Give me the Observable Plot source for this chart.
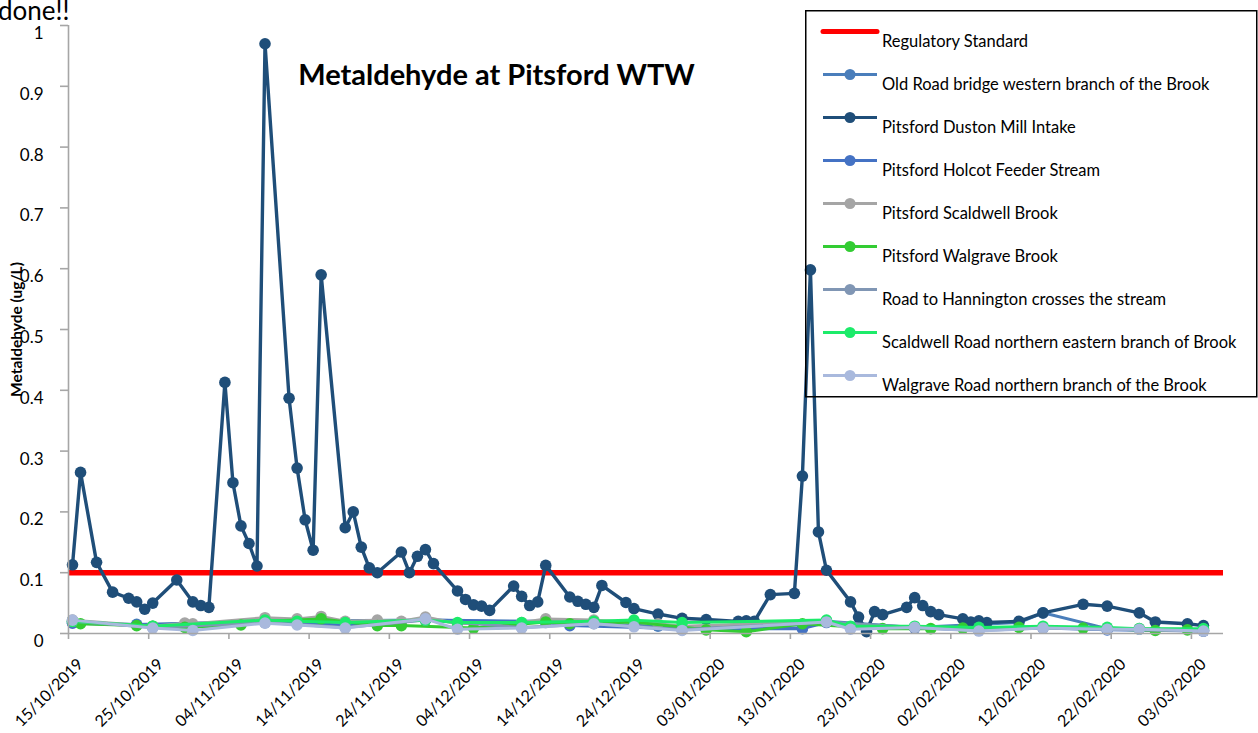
<!DOCTYPE html>
<html>
<head>
<meta charset="utf-8">
<script src="https://cdn.jsdelivr.net/npm/d3@7"></script>
<script src="https://cdn.jsdelivr.net/npm/@observablehq/plot@0.6"></script>
<style>
  html, body { margin: 0; padding: 0; background: #fff; }
  #wrap { position: relative; width: 1258px; height: 733px; overflow: hidden; font-family: Lato, "Open Sans", sans-serif; }
  #done { position: absolute; left: -2px; top: -5px; font-size: 26px; line-height: 30px; color: #000; }
  #legend { position: absolute; left: 805px; top: 10px; }
</style>
</head>
<body>
<div id="wrap">
  <div id="chart"></div>
  <div id="done">done!!</div>
  <svg id="legend" width="453" height="390"></svg>
</div>
<script>
// ---- chart text ----
const titleText = "Metaldehyde at Pitsford WTW";
const yLabel = "Metaldehyde (ug/L)";
const yTicks = [0, 0.1, 0.2, 0.3, 0.4, 0.5, 0.6, 0.7, 0.8, 0.9, 1];
const xTicks = ["2019-10-15","2019-10-25","2019-11-04","2019-11-14","2019-11-24","2019-12-04","2019-12-14","2019-12-24","2020-01-03","2020-01-13","2020-01-23","2020-02-02","2020-02-12","2020-02-22","2020-03-03"];
const xDomain = ["2019-10-15", "2020-03-07"];

// ---- series names ----
const seriesNames = [
  "Regulatory Standard",
  "Old Road bridge western branch of the Brook",
  "Pitsford Duston Mill Intake",
  "Pitsford Holcot Feeder Stream",
  "Pitsford Scaldwell Brook",
  "Pitsford Walgrave Brook",
  "Road to Hannington crosses the stream",
  "Scaldwell Road northern eastern branch of Brook",
  "Walgrave Road northern branch of the Brook"
];
const seriesColors = ["#FF0000","#4A7EBB","#1F4E79","#4472C4","#A5A5A5","#33CC33","#8096B4","#1CEB6A","#A9B9DD"];

// ---- Regulatory Standard ----
const regulatoryValue = [0.1];

// ---- Old Road bridge western branch of the Brook ----
const oldRoadDates = ["2019-10-15","2019-10-23","2019-11-08","2019-11-28","2019-12-13","2019-12-27","2020-01-14","2020-01-17","2020-01-28","2020-02-10","2020-02-13","2020-02-21","2020-02-25","2020-03-04"];
const oldRoadValues = [0.018,0.015,0.020,0.022,0.020,0.012,0.009,0.020,0.010,0.018,0.034,0.008,0.007,0.005];

// ---- Pitsford Duston Mill Intake ----
const dustonDates = ["2019-10-15","2019-10-16","2019-10-18","2019-10-20","2019-10-22","2019-10-23","2019-10-24","2019-10-25","2019-10-28","2019-10-30","2019-10-31","2019-11-01","2019-11-03","2019-11-04","2019-11-05","2019-11-06","2019-11-07","2019-11-08","2019-11-11","2019-11-12","2019-11-13","2019-11-14","2019-11-15","2019-11-18","2019-11-19","2019-11-20","2019-11-21","2019-11-22","2019-11-25","2019-11-26","2019-11-27","2019-11-28","2019-11-29","2019-12-02","2019-12-03","2019-12-04","2019-12-05","2019-12-06","2019-12-09","2019-12-10","2019-12-11","2019-12-12","2019-12-13","2019-12-16","2019-12-17","2019-12-18","2019-12-19","2019-12-20","2019-12-23","2019-12-24","2019-12-27","2019-12-30","2020-01-02","2020-01-06","2020-01-07","2020-01-08","2020-01-10","2020-01-13","2020-01-14","2020-01-15","2020-01-16","2020-01-17","2020-01-20","2020-01-21","2020-01-22","2020-01-23","2020-01-24","2020-01-27","2020-01-28","2020-01-29","2020-01-30","2020-01-31","2020-02-03","2020-02-04","2020-02-05","2020-02-06","2020-02-10","2020-02-13","2020-02-18","2020-02-21","2020-02-25","2020-02-27","2020-03-02","2020-03-04"];
const dustonValues = [0.113,0.265,0.117,0.068,0.058,0.052,0.040,0.050,0.088,0.052,0.046,0.043,0.413,0.248,0.177,0.148,0.111,0.970,0.387,0.272,0.187,0.137,0.590,0.174,0.200,0.142,0.108,0.100,0.134,0.100,0.127,0.138,0.115,0.070,0.056,0.047,0.045,0.038,0.078,0.061,0.046,0.052,0.112,0.060,0.053,0.048,0.043,0.079,0.051,0.041,0.032,0.025,0.023,0.020,0.021,0.020,0.064,0.066,0.259,0.598,0.167,0.104,0.052,0.027,0.003,0.036,0.031,0.043,0.059,0.046,0.036,0.031,0.024,0.019,0.021,0.018,0.020,0.034,0.048,0.045,0.034,0.019,0.016,0.013];

// ---- Pitsford Holcot Feeder Stream ----
const holcotDates = ["2019-10-15","2019-10-23","2019-11-08","2019-11-18","2019-11-28","2019-12-13","2019-12-16","2019-12-30","2020-01-14","2020-01-17","2020-01-28","2020-02-05","2020-02-13","2020-02-21","2020-03-04"];
const holcotValues = [0.017,0.014,0.018,0.014,0.022,0.018,0.013,0.008,0.008,0.018,0.009,0.006,0.009,0.006,0.004];

// ---- Pitsford Scaldwell Brook ----
const scaldBrookDates = ["2019-10-15","2019-10-25","2019-10-29","2019-10-30","2019-11-08","2019-11-12","2019-11-15","2019-11-18","2019-11-22","2019-11-25","2019-11-28","2019-12-02","2019-12-10","2019-12-13","2019-12-19","2019-12-27","2019-12-30","2020-01-17","2020-01-20","2020-01-28","2020-02-05","2020-02-13","2020-02-21","2020-02-25","2020-03-04"];
const scaldBrookValues = [0.022,0.012,0.017,0.016,0.026,0.024,0.028,0.020,0.022,0.020,0.027,0.016,0.018,0.024,0.022,0.016,0.012,0.020,0.010,0.010,0.008,0.010,0.008,0.008,0.006];

// ---- Pitsford Walgrave Brook ----
const walgBrookDates = ["2019-10-16","2019-10-23","2019-10-25","2019-10-29","2019-11-05","2019-11-08","2019-11-15","2019-11-22","2019-11-25","2019-12-04","2019-12-13","2019-12-16","2019-12-24","2020-01-02","2020-01-07","2020-01-14","2020-01-24","2020-01-30","2020-02-03","2020-02-10","2020-02-18","2020-02-27","2020-03-02"];
const walgBrookValues = [0.016,0.013,0.012,0.010,0.014,0.020,0.024,0.013,0.013,0.009,0.019,0.016,0.019,0.006,0.003,0.016,0.008,0.008,0.009,0.010,0.009,0.005,0.006];

// ---- Road to Hannington crosses the stream ----
const hanningtonDates = ["2019-10-15","2019-10-25","2019-11-08","2019-11-18","2019-11-28","2019-12-10","2019-12-19","2019-12-30","2020-01-17","2020-01-28","2020-02-05","2020-02-13","2020-02-21","2020-03-04"];
const hanningtonValues = [0.020,0.010,0.018,0.010,0.022,0.010,0.016,0.006,0.019,0.010,0.005,0.009,0.007,0.004];

// ---- Scaldwell Road northern eastern branch of Brook ----
const scaldRoadDates = ["2019-10-15","2019-10-25","2019-11-08","2019-11-12","2019-11-18","2019-11-28","2019-12-02","2019-12-10","2019-12-19","2019-12-24","2019-12-30","2020-01-17","2020-01-20","2020-01-28","2020-02-05","2020-02-13","2020-02-21","2020-02-25","2020-03-04"];
const scaldRoadValues = [0.020,0.012,0.022,0.020,0.018,0.022,0.018,0.018,0.020,0.022,0.018,0.022,0.012,0.012,0.010,0.012,0.010,0.008,0.008];

// ---- Walgrave Road northern branch of the Brook ----
const walgRoadDates = ["2019-10-15","2019-10-25","2019-10-30","2019-11-08","2019-11-12","2019-11-18","2019-11-28","2019-12-02","2019-12-10","2019-12-19","2019-12-24","2019-12-30","2020-01-17","2020-01-20","2020-01-28","2020-02-05","2020-02-13","2020-02-21","2020-02-25","2020-03-04"];
const walgRoadValues = [0.022,0.009,0.005,0.017,0.014,0.009,0.024,0.007,0.009,0.016,0.011,0.005,0.019,0.007,0.010,0.004,0.009,0.007,0.007,0.004];

// ---- build tidy rows (drawing order = legend order) ----
const seriesData = [
  [oldRoadDates, oldRoadValues],
  [dustonDates, dustonValues],
  [holcotDates, holcotValues],
  [scaldBrookDates, scaldBrookValues],
  [walgBrookDates, walgBrookValues],
  [hanningtonDates, hanningtonValues],
  [scaldRoadDates, scaldRoadValues],
  [walgRoadDates, walgRoadValues]
];
const parse = d3.utcParse("%Y-%m-%d");
// Excel date axis places each day's point in the middle of its day slot
const mid = s => d3.utcHour.offset(parse(s), 12);
const rows = [];
seriesData.forEach(([dates, vals], i) => {
  dates.forEach((d, j) => rows.push({series: seriesNames[i + 1], date: mid(d), value: vals[j]}));
});

const marks = [
  Plot.ruleY(regulatoryValue, {stroke: seriesColors[0], strokeWidth: 5.5})
];
seriesNames.slice(1).forEach((name, k) => {
  const color = seriesColors[k + 1];
  const data = rows.filter(r => r.series === name);
  const main = name === "Pitsford Duston Mill Intake";
  marks.push(Plot.line(data, {x: "date", y: "value", stroke: color, strokeWidth: main ? 3.4 : 3, strokeLinejoin: "round"}));
  marks.push(Plot.dot(data, {x: "date", y: "value", fill: color, r: 5.8}));
});

const xTickDates = xTicks.map(parse);
marks.push(
  Plot.ruleX([parse(xDomain[0])], {stroke: "#A6A6A6", strokeWidth: 1.6}),
  Plot.ruleY([0], {stroke: "#A6A6A6", strokeWidth: 1.6, x1: parse(xDomain[0]), x2: parse(xDomain[1])}),
  // y tick marks
  Plot.axisY({ticks: yTicks, tickSize: 8, text: null, stroke: "#A6A6A6", strokeWidth: 1.6, label: null}),
  // y tick labels (Excel draws them slightly below the tick)
  Plot.axisY({ticks: yTicks, tickSize: 0, tickPadding: 25, tickFormat: d => String(d), fontSize: 17, label: null, dy: 8}),
  // x tick marks
  Plot.axisX({ticks: xTickDates, tickSize: 6, text: null, stroke: "#A6A6A6", strokeWidth: 1.6, label: null}),
  // x tick labels, rotated
  Plot.axisX({ticks: xTickDates, tickSize: 0, tickRotate: -45, tickPadding: 10, tickFormat: d3.utcFormat("%d/%m/%Y"), fontSize: 16, label: null, dx: 12, dy: 18}),
  Plot.text([yLabel], {frameAnchor: "left", textAnchor: "middle", lineAnchor: "middle", rotate: -90, dx: -51, text: d => d, fontWeight: "bold", fontSize: 15.5, fill: "#000"}),
  Plot.text([titleText], {frameAnchor: "top-left", textAnchor: "middle", lineAnchor: "middle", dx: 428, dy: 50, text: d => d, fontWeight: "bold", fontSize: 29, fill: "#000"})
);

const chart = Plot.plot({
  width: 1258,
  height: 733,
  marginLeft: 68,
  marginRight: 35,
  marginTop: 25,
  marginBottom: 100,
  style: {fontFamily: "Lato, 'Open Sans', sans-serif", color: "#000", background: "transparent", overflow: "visible"},
  x: {type: "utc", domain: xDomain.map(parse)},
  y: {domain: [0, 1]},
  marks
});
document.getElementById("chart").appendChild(chart);

// ---- legend (overlaid box, top right) ----
const lg = d3.select("#legend");
lg.append("rect").attr("x", 0.75).attr("y", 0.75).attr("width", 451).attr("height", 386)
  .attr("fill", "none").attr("stroke", "#000").attr("stroke-width", 1.5);
seriesNames.forEach((name, i) => {
  const y = 21.5 + i * 43;
  const g = lg.append("g");
  g.append("line").attr("x1", 18).attr("x2", 72).attr("y1", y).attr("y2", y)
    .attr("stroke", seriesColors[i]).attr("stroke-width", i === 0 ? 5 : 3).attr("stroke-linecap", i === 0 ? "round" : "butt");
  if (i > 0) g.append("circle").attr("cx", 45).attr("cy", y).attr("r", 5.5).attr("fill", seriesColors[i]);
  g.append("text").attr("x", 77).attr("y", y + 15).attr("font-size", 16.5)
    .attr("font-family", "Lato, 'Open Sans', sans-serif").attr("fill", "#000").text(name);
});
</script>
</body>
</html>
